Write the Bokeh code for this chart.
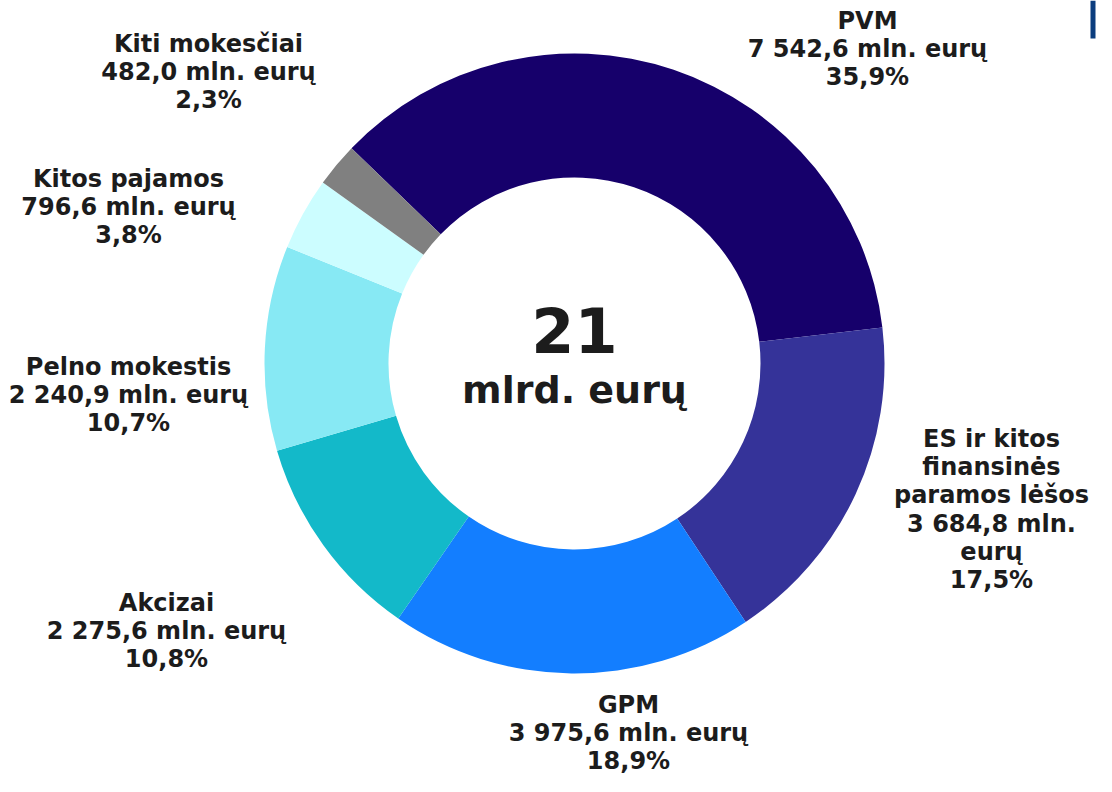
import math
from bokeh.plotting import figure
from bokeh.models import Range1d, ColumnDataSource
from bokeh.core.properties import value
from bokeh.embed import file_html
from bokeh.resources import INLINE

# ---- data ----
categories = ["PVM", "ES ir kitos finansinės paramos lėšos", "GPM", "Akcizai",
              "Pelno mokestis", "Kitos pajamos", "Kiti mokesčiai"]
label_names = [["PVM"], ["ES ir kitos", "finansinės", "paramos lėšos"], ["GPM"], ["Akcizai"],
               ["Pelno mokestis"], ["Kitos pajamos"], ["Kiti mokesčiai"]]
values_mln = [7542.6, 3684.8, 3975.6, 2275.6, 2240.9, 796.6, 482.0]
colors = ["#16006B", "#353399", "#137EFF", "#13B9C9", "#87E9F4", "#CCFDFF", "#808080"]
center_big = "21"
center_small = "mlrd. eurų"

# ---- layout (picture px, origin top-left) ----
W, H = 1096, 776
CX, CY = 574, 363
R_OUT, R_IN = 310, 186
START_DEG = 136.0
FS = 24
LH = 28.33
BASE_SHIFT = 0.41  # empirical: rendered baseline lies this many em below anchor
# label anchor: (center x, first-line baseline y)
label_anchor = [(867, 30), (991, 448), (628, 714), (166, 612),
                (128, 376), (128, 188), (208, 53)]

def sy(y):
    return 792 - y

def text_y(baseline, fs):
    return sy(baseline - BASE_SHIFT * fs)

def fmt_num(v):
    return f"{v:,.1f}".replace(",", " ").replace(".", ",")

total = sum(values_mln)
fracs = [v / total for v in values_mln]

starts, ends = [], []
cum = 0.0
for f in fracs:
    a0 = math.radians(START_DEG) - 2 * math.pi * cum
    a1 = a0 - 2 * math.pi * f
    starts.append(a0)
    ends.append(a1)
    cum += f

p = figure(width=W, height=H, output_backend="svg", toolbar_location=None,
           x_range=Range1d(0, W), y_range=Range1d(792 - H, 792),
           min_border=0, outline_line_color=None, background_fill_color="white",
           border_fill_color="white")
p.axis.visible = False
p.grid.visible = False

src = ColumnDataSource(dict(x=[CX] * len(values_mln), y=[sy(CY)] * len(values_mln),
                            start=starts, end=ends, color=colors, cat=categories))
p.annular_wedge(x="x", y="y", inner_radius=R_IN, outer_radius=R_OUT,
                start_angle="start", end_angle="end", direction="clock",
                fill_color="color", line_color=None, source=src)

# labels
tx, ty, tt = [], [], []
for i, v in enumerate(values_mln):
    pct = f"{100 * v / total:.1f}".replace(".", ",") + "%"
    num = fmt_num(v)
    if i == 1:
        lines = label_names[i] + [f"{num} mln.", "eurų", pct]
    else:
        lines = label_names[i] + [f"{num} mln. eurų", pct]
    ax, ay = label_anchor[i]
    for k, ln in enumerate(lines):
        tx.append(ax)
        ty.append(text_y(ay + k * LH, FS))
        tt.append(ln)

p.text(x=tx, y=ty, text=tt, text_font=value("DejaVu Sans"), text_font_style="bold",
       text_font_size=f"{FS}px", text_align="center", text_baseline="alphabetic",
       text_color="#1c1c1c")

p.text(x=[CX], y=[text_y(355, 62)], text=[center_big], text_font=value("DejaVu Sans"),
       text_font_style="bold", text_font_size="62px", text_align="center",
       text_baseline="alphabetic", text_color="#1c1c1c")
p.text(x=[CX], y=[text_y(405, 38)], text=[center_small], text_font=value("DejaVu Sans"),
       text_font_style="bold", text_font_size="38px", text_align="center",
       text_baseline="alphabetic", text_color="#1c1c1c")

# decorative edge bar at top right
p.quad(left=[1090], right=[1095], top=[sy(0)], bottom=[sy(38)],
       fill_color="#0B3D7E", line_color=None)

open("out.html", "w").write(file_html(p, INLINE))
